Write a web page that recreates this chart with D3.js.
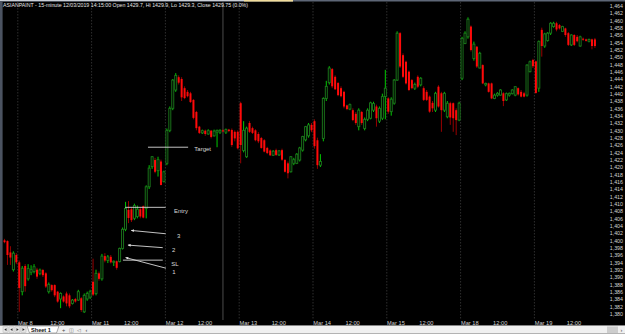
<!DOCTYPE html>
<html>
<head>
<script src="https://cdnjs.cloudflare.com/ajax/libs/d3/7.8.5/d3.min.js"></script>
<style>
  body { margin: 0; background: #000; }
  svg { display: block; font-family: "Liberation Sans", Arial, sans-serif; }
</style>
</head>
<body>
<svg id="chart" width="625" height="334"></svg>
<script>
// OHLC per 15-minute bar, one array per session: [open, high, low, close]
var mar07 = [
  [1400.0,1400.4,1399.2,1399.5],[1399.8,1400.0,1393.3,1396.0],[1396.7,1398.4,1393.3,1395.3],
  [1392.0,1397.0,1391.5,1396.5],[1396.0,1396.5,1393.5,1394.0]
];
var mar08 = [
  [1394.0,1394.5,1380.5,1387.0],[1386.0,1393.0,1385.0,1392.4],[1393.0,1393.5,1386.0,1387.5],
  [1389.5,1393.5,1389.0,1392.3],[1391.3,1393.2,1390.5,1392.0],[1391.5,1393.5,1391.0,1392.8],
  [1392.0,1392.5,1389.5,1390.1],[1391.0,1392.3,1390.5,1391.9],[1391.9,1392.2,1390.0,1390.5],
  [1391.0,1391.3,1387.0,1387.4],[1386.0,1388.5,1385.5,1388.0],[1387.8,1388.0,1386.0,1386.4],
  [1387.8,1388.0,1384.5,1385.0],[1386.0,1386.2,1383.0,1383.3],[1384.0,1385.8,1381.5,1385.5],
  [1384.7,1385.0,1383.0,1383.3],[1385.5,1386.0,1382.0,1382.8],[1385.0,1385.5,1381.5,1382.0],
  [1382.8,1384.0,1382.5,1383.7],[1384.0,1384.3,1383.0,1383.3],[1383.7,1386.5,1383.5,1386.0],
  [1384.2,1384.5,1380.5,1381.0],[1380.5,1385.5,1380.2,1385.0],[1384.0,1386.0,1383.5,1385.5],
  [1384.5,1386.5,1384.0,1386.0]
];
var mar11 = [
  [1388.7,1395.0,1384.8,1385.2],[1385.5,1392.0,1385.0,1391.0],[1391.0,1391.5,1389.0,1389.5],
  [1389.5,1396.3,1389.0,1395.7],[1395.7,1396.5,1394.0,1394.5],[1394.5,1396.0,1393.8,1395.5],
  [1395.5,1396.0,1393.7,1394.0],[1394.0,1394.5,1393.0,1394.3],[1394.3,1394.5,1392.0,1392.5],
  [1394.2,1398.0,1394.0,1397.8],[1397.8,1403.5,1397.5,1403.0],[1403.0,1410.5,1402.5,1408.7],
  [1408.3,1410.7,1404.7,1406.1],[1408.5,1409.0,1405.0,1405.5],[1406.0,1410.0,1405.5,1409.5],
  [1406.5,1409.5,1406.0,1408.5],[1408.5,1409.0,1406.0,1406.5],[1409.3,1409.5,1406.0,1406.2],
  [1408.7,1415.0,1406.0,1414.6],[1414.6,1420.5,1414.0,1419.7],[1420.1,1423.0,1419.5,1422.8],
  [1421.9,1422.5,1418.3,1418.7],[1419.0,1422.8,1417.4,1422.0],[1421.5,1422.0,1415.0,1415.1],
  [1416.0,1419.0,1415.8,1418.7]
];
var mar12 = [
  [1421.0,1430.5,1420.5,1430.0],[1430.0,1436.5,1429.5,1436.0],[1436.0,1444.0,1435.5,1443.7],
  [1441.0,1445.6,1440.5,1445.0],[1444.5,1445.0,1442.5,1443.0],[1444.0,1444.5,1438.0,1439.0],
  [1441.5,1442.0,1438.5,1438.8],[1440.5,1441.0,1439.0,1439.3],[1440.1,1440.5,1437.5,1437.7],
  [1438.3,1438.5,1433.0,1433.4],[1435.0,1435.3,1430.0,1430.6],[1431.0,1431.2,1429.0,1429.3],
  [1429.3,1430.2,1429.0,1429.9],[1429.9,1430.2,1428.5,1429.0],[1429.0,1430.3,1428.8,1429.9],
  [1429.9,1430.1,1427.8,1428.2],[1428.5,1430.2,1428.3,1429.8],[1429.5,1430.2,1425.4,1430.0],
  [1429.5,1430.3,1429.0,1430.0],[1430.0,1430.3,1429.5,1429.7],[1429.5,1430.5,1429.0,1430.2],
  [1430.2,1430.4,1429.5,1429.8],[1430.1,1430.5,1425.5,1426.0],[1429.6,1430.0,1427.0,1427.8],
  [1429.6,1430.0,1424.8,1425.1]
];
var mar13 = [
  [1437.4,1437.8,1421.0,1426.0],[1424.5,1432.5,1424.0,1430.0],[1422.8,1431.0,1422.5,1430.6],
  [1432.0,1432.5,1429.3,1429.6],[1430.6,1431.0,1429.0,1429.3],[1430.0,1430.3,1427.0,1427.3],
  [1429.0,1429.5,1426.5,1427.0],[1427.9,1428.2,1425.0,1425.2],[1427.3,1427.6,1424.0,1424.2],
  [1425.2,1425.5,1423.5,1423.8],[1424.5,1424.8,1423.0,1423.2],[1423.2,1424.6,1423.0,1424.3],
  [1424.6,1425.0,1423.0,1423.3],[1423.3,1424.6,1423.0,1424.4],[1424.6,1425.0,1421.7,1422.0],
  [1421.9,1422.2,1418.5,1418.7],[1421.0,1421.5,1416.9,1418.3],[1418.7,1423.0,1418.5,1422.8],
  [1421.0,1422.5,1420.5,1422.0],[1421.0,1423.8,1420.8,1423.5],[1421.9,1425.5,1421.5,1425.2],
  [1424.6,1428.5,1424.2,1428.3],[1427.4,1431.2,1427.0,1431.0],[1428.5,1432.0,1428.0,1431.5],
  [1431.5,1432.0,1429.5,1430.0]
];
var mar14 = [
  [1432.5,1433.0,1425.0,1425.7],[1427.3,1428.0,1419.5,1420.5],[1420.5,1423.5,1420.0,1421.5],
  [1427.8,1439.0,1427.0,1438.7],[1438.7,1443.5,1438.0,1442.0],[1443.0,1447.5,1442.5,1447.0],
  [1446.7,1447.0,1441.5,1442.0],[1444.6,1445.0,1441.0,1441.2],[1442.9,1443.2,1439.3,1439.6],
  [1441.5,1442.0,1439.0,1439.3],[1440.5,1440.8,1436.0,1436.5],[1436.8,1437.0,1435.5,1435.8],
  [1435.8,1437.3,1435.5,1437.0],[1435.5,1436.0,1432.5,1432.8],[1434.5,1435.0,1431.5,1432.0],
  [1431.0,1436.0,1430.0,1435.5],[1435.0,1435.3,1431.5,1432.0],[1430.5,1433.5,1430.0,1433.0],
  [1433.0,1436.0,1432.5,1435.5],[1433.3,1437.8,1433.0,1437.5],[1435.5,1437.8,1435.0,1437.3],
  [1436.5,1437.0,1431.0,1433.3],[1432.5,1436.5,1432.0,1436.0],[1433.3,1440.0,1432.8,1439.2],
  [1439.2,1446.5,1433.0,1441.5]
];
var mar15 = [
  [1438.7,1439.0,1434.5,1435.1],[1435.1,1439.0,1434.0,1438.5],[1437.4,1444.0,1437.0,1443.7],
  [1443.7,1457.0,1443.5,1456.5],[1456.5,1456.8,1447.0,1447.4],[1450.5,1451.0,1444.3,1444.6],
  [1448.7,1449.0,1442.5,1442.8],[1446.0,1446.3,1440.7,1441.0],[1443.7,1444.0,1441.2,1441.5],
  [1441.5,1443.0,1441.0,1442.5],[1444.6,1445.0,1441.5,1441.9],[1442.4,1444.5,1442.0,1444.2],
  [1441.5,1442.0,1438.0,1438.3],[1440.5,1441.0,1438.0,1438.3],[1439.2,1439.5,1434.8,1435.1],
  [1437.5,1438.0,1435.0,1436.0],[1435.5,1440.5,1435.0,1440.1],[1441.9,1442.3,1436.2,1436.5],
  [1440.1,1440.5,1429.6,1435.5],[1435.5,1440.5,1435.0,1440.1],[1433.7,1438.0,1433.3,1437.4],
  [1437.4,1437.8,1431.5,1433.5],[1437.4,1437.6,1429.6,1433.3],[1435.5,1436.0,1428.7,1432.8],
  [1432.8,1437.8,1432.5,1437.4]
];
var mar18 = [
  [1444.2,1455.5,1443.7,1455.1],[1453.7,1457.0,1453.5,1456.5],[1455.5,1460.8,1455.0,1460.3],
  [1458.3,1458.6,1451.5,1451.9],[1449.6,1454.2,1449.0,1453.5],[1452.8,1453.0,1447.0,1447.4],
  [1447.0,1451.4,1446.9,1451.0],[1447.8,1448.0,1442.6,1442.8],[1442.4,1443.0,1442.0,1442.8],
  [1442.8,1443.0,1440.3,1440.5],[1442.8,1443.0,1438.5,1438.7],[1438.7,1440.0,1438.5,1439.6],
  [1439.6,1440.4,1439.2,1440.1],[1439.6,1441.2,1439.5,1441.0],[1440.1,1440.4,1436.6,1438.0],
  [1438.3,1440.3,1438.0,1440.0],[1439.6,1440.3,1439.2,1440.1],[1440.0,1441.2,1439.8,1441.0],
  [1439.6,1442.0,1439.3,1441.9],[1441.5,1441.7,1439.5,1439.8],[1440.5,1441.0,1439.0,1439.2],
  [1440.1,1440.5,1439.0,1439.2],[1439.6,1448.0,1439.2,1447.8],[1446.0,1449.0,1445.8,1448.7],
  [1449.2,1449.5,1447.0,1447.5]
];
var mar19 = [
  [1448.8,1449.0,1440.0,1440.2],[1441.5,1454.5,1440.5,1454.2],[1457.4,1458.0,1450.1,1453.0],
  [1453.0,1456.6,1452.5,1456.3],[1454.5,1456.8,1454.2,1456.5],[1456.5,1459.5,1456.0,1459.2],
  [1458.3,1459.6,1458.0,1459.2],[1459.2,1459.6,1457.0,1457.5],[1458.7,1459.0,1457.5,1457.8],
  [1457.0,1458.5,1456.8,1458.3],[1457.8,1458.0,1455.5,1456.0],[1456.5,1456.8,1453.0,1453.3],
  [1453.3,1456.2,1453.0,1456.0],[1456.0,1456.2,1453.0,1453.3],[1455.5,1456.0,1454.0,1454.3],
  [1453.0,1455.8,1452.8,1455.5],[1455.0,1455.3,1454.4,1454.7],[1454.8,1455.0,1454.2,1454.4],
  [1454.3,1455.0,1454.0,1454.8],[1454.8,1455.0,1452.1,1453.0],[1454.8,1455.2,1452.5,1453.0]
];

var dayLabels = ["", "Mar 8", "Mar 11", "Mar 12", "Mar 13", "Mar 14", "Mar 15", "Mar 18", "Mar 19"];
var sessions = [mar07, mar08, mar11, mar12, mar13, mar14, mar15, mar18, mar19];
var noonLabel = "12:00";
var noonSlot = 11;
var yTicks = d3.range(1380, 1465, 2);
var title = "ASIANPAINT - 15-minute 12/03/2019 14:15:00 Open 1429.7, Hi 1429.9, Lo 1429.3, Close 1429.75 (0.0%)";
var cursorBar = 74;

// drawn levels, in bar index / price units
var notes = [
  {text: "Target", i0: 49.1, p0: 1425.4, i1: 62.7, p1: 1425.4, arrow: false, ti: 64.8, tp: 1424.9},
  {text: "Entry",  i0: 41.4, p0: 1409.0, i1: 55.1, p1: 1409.0, arrow: false, ti: 57.9, tp: 1408.0},
  {text: "3",      i0: 43.4, p0: 1402.7, i1: 55.1, p1: 1401.8, arrow: true,  ti: 58.9, tp: 1401.2},
  {text: "2",      i0: 42.3, p0: 1398.7, i1: 54.1, p1: 1398.0, arrow: true,  ti: 57.2, tp: 1397.3},
  {text: "SL",     i0: 40.6, p0: 1394.6, i1: 54.1, p1: 1394.6, arrow: false, ti: 57.0, tp: 1393.6},
  {text: "1",      i0: 41.5, p0: 1395.3, i1: 55.2, p1: 1392.4, arrow: true,  ti: 57.3, tp: 1391.3}
];

/* flatten bars */
var bars = [];
var dayStarts = [];
sessions.forEach(function(s, d) {
  var firstSlot = 25 - s.length;
  if (d > 0) dayStarts.push({index: bars.length, label: dayLabels[d]});
  s.forEach(function(b, k) {
    bars.push({o: b[0], h: b[1], l: b[2], c: b[3], slot: firstSlot + k});
  });
});

var barW = 2.952;
var x = d3.scaleLinear().domain([0, bars.length]).range([3.04, 3.04 + bars.length * barW]);
var y = d3.scaleLinear().domain([1380, 1464]).range([313.67, 5.67]);

var svg = d3.select("#chart");
svg.append("rect").attr("width", 625).attr("height", 334).attr("fill", "#000");

// top strip and left frame
svg.append("rect").attr("x", 0).attr("y", 0).attr("width", 625).attr("height", 1.5).attr("fill", "#5d6676");
svg.append("rect").attr("x", 0).attr("y", 0).attr("width", 244).attr("height", 1.2).attr("fill", "#c9ced6");
svg.append("rect").attr("x", 244).attr("y", 0).attr("width", 49).attr("height", 1.6).attr("fill", "#f1dc9c");
svg.append("rect").attr("x", 0).attr("y", 1).attr("width", 2.6).attr("height", 324).attr("fill", "#4b5361");

// day separators
svg.append("g").selectAll("line")
  .data(dayStarts).join("line")
  .attr("x1", d => x(d.index)).attr("x2", d => x(d.index))
  .attr("y1", 2).attr("y2", 319)
  .attr("stroke", "#3a3a3a").attr("stroke-width", 0.8).attr("stroke-dasharray", "1.5,1.5");

// cursor line
svg.append("line")
  .attr("x1", x(cursorBar + 0.5)).attr("x2", x(cursorBar + 0.5))
  .attr("y1", 2).attr("y2", 320)
  .attr("stroke", "#555").attr("stroke-width", 0.9);

/* candles */
var candles = svg.append("g").selectAll("g")
  .data(bars).join("g");

candles.append("line")
  .attr("x1", (d, i) => x(i + 0.5)).attr("x2", (d, i) => x(i + 0.5))
  .attr("y1", d => y(d.h)).attr("y2", d => y(d.l))
  .attr("stroke", d => d.c >= d.o ? "#00e000" : "#a80000")
  .attr("stroke-width", 0.9);

candles.append("rect")
  .attr("x", (d, i) => x(i + 0.5) - 1)
  .attr("width", 2)
  .attr("y", d => y(Math.max(d.o, d.c)))
  .attr("height", d => Math.max(0.8, y(Math.min(d.o, d.c)) - y(Math.max(d.o, d.c))))
  .attr("fill", d => d.c >= d.o ? "#000" : "#ff0a0a")
  .attr("stroke", d => d.c >= d.o ? "#1c7a1c" : "none")
  .attr("stroke-width", 0.9);

/* y axis */
var yAxis = svg.append("g")
  .attr("transform", "translate(623,0)")
  .call(d3.axisLeft(y).tickValues(yTicks).tickSize(0).tickPadding(0).tickFormat(d3.format(",")));
yAxis.select(".domain").remove();
yAxis.attr("font-size", 5.3).attr("font-family", null);
yAxis.selectAll("text").attr("fill", "#d2d2d2");

/* x labels */
var xl = svg.append("g").attr("font-size", 5.7).attr("fill", "#d2d2d2");
dayStarts.forEach(function(d) {
  xl.append("text").attr("x", x(d.index) + 0.3).attr("y", 324.6).text(d.label);
  if (d.index + noonSlot < bars.length)
    xl.append("text").attr("x", x(d.index + noonSlot)).attr("y", 324.6).text(noonLabel);
});

/* header */
svg.append("text")
  .attr("x", 3).attr("y", 7.3)
  .attr("font-size", 6).attr("fill", "#e4e4e4")
  .attr("textLength", 245).attr("lengthAdjust", "spacingAndGlyphs")
  .text(title);

/* annotations */
svg.append("defs").append("marker")
  .attr("id", "head").attr("viewBox", "0 0 6 6")
  .attr("refX", 6).attr("refY", 3)
  .attr("markerWidth", 4).attr("markerHeight", 3)
  .attr("orient", "auto-start-reverse")
  .append("path").attr("d", "M0,0 L6,3 L0,6 z").attr("fill", "#e8e8e8");

var an = svg.append("g");
an.selectAll("line")
  .data(notes).join("line")
  .attr("x1", d => x(d.i0)).attr("y1", d => y(d.p0))
  .attr("x2", d => x(d.i1)).attr("y2", d => y(d.p1))
  .attr("stroke", "#d8d8d8").attr("stroke-width", 0.9)
  .attr("marker-start", d => d.arrow ? "url(#head)" : null);
an.selectAll("text")
  .data(notes).join("text")
  .attr("x", d => x(d.ti)).attr("y", d => y(d.tp)).attr("dy", "0.35em")
  .attr("font-size", 6).attr("fill", "#d8d8d8")
  .text(d => d.text);

/* sheet tab bar */
var sb = svg.append("g");
sb.append("rect").attr("x", 0).attr("y", 325.5).attr("width", 625).attr("height", 8.5).attr("fill", "#f0f0f0");
sb.append("line").attr("x1", 0).attr("x2", 625).attr("y1", 325.5).attr("y2", 325.5).attr("stroke", "#8a8a8a").attr("stroke-width", 0.8);
[3, 9, 15, 21].forEach(function(bx, k) {
  sb.append("rect").attr("x", bx).attr("y", 326.8).attr("width", 5).attr("height", 5.5)
    .attr("fill", "#e4e4e4").attr("stroke", "#b4b4b4").attr("stroke-width", 0.5);
  var cx = bx + 2.5, dir = k < 2 ? -1 : 1;
  sb.append("path")
    .attr("d", "M" + (cx + dir * 1.2) + ",329.6 L" + (cx - dir * 1) + ",328.2 L" + (cx - dir * 1) + ",331 Z")
    .attr("fill", "#333");
});
sb.append("path").attr("d", "M27,326 L59,326 L56.5,333 L29.5,333 Z").attr("fill", "#fff").attr("stroke", "#777").attr("stroke-width", 0.6);
sb.append("text").attr("x", 31).attr("y", 331.6).attr("font-size", 5.6).attr("font-weight", "bold").attr("fill", "#111").text("Sheet 1");
sb.append("text").attr("x", 62).attr("y", 331.6).attr("font-size", 5.6).attr("fill", "#444").text("+");
sb.append("text").attr("x", 69).attr("y", 331.6).attr("font-size", 5).attr("fill", "#666").text("◫");
sb.append("text").attr("x", 76.5).attr("y", 331.6).attr("font-size", 5).attr("fill", "#666").text("◁");
sb.append("text").attr("x", 85.5).attr("y", 331.6).attr("font-size", 5.6).attr("fill", "#444").text("‹");
sb.append("rect").attr("x", 607).attr("y", 326.5).attr("width", 11).attr("height", 6.5).attr("fill", "#cdcdcd");
sb.append("text").attr("x", 620.5).attr("y", 331.6).attr("font-size", 5.6).attr("fill", "#444").text("›");
sb.append("line").attr("x1", 0).attr("x2", 625).attr("y1", 333.6).attr("y2", 333.6).attr("stroke", "#9a9a9a").attr("stroke-width", 0.8);
</script>
</body>
</html>
